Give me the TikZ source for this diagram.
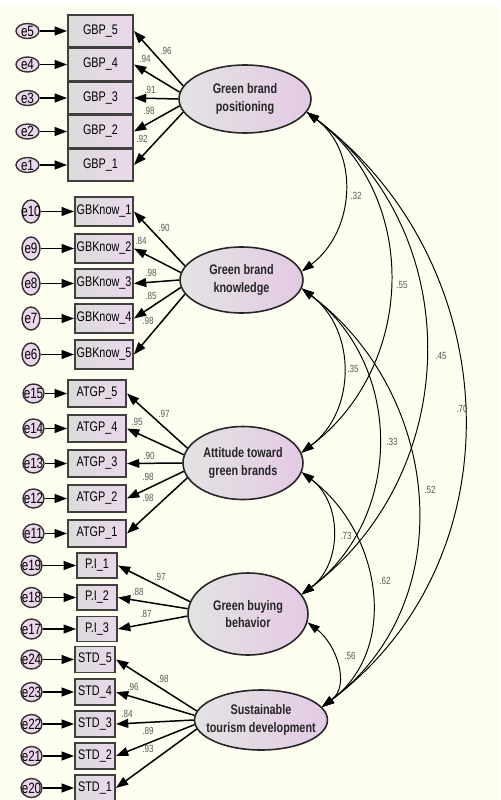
\documentclass[tikz,border=0pt]{standalone}
\usepackage{fontspec}
\setmainfont{Liberation Sans}
\newfontfamily\amosfont[FakeStretch=0.78]{Liberation Sans}
\newcommand\boxfont{\amosfont\fontsize{7.9pt}{9pt}\selectfont}
\newcommand\latfont{\amosfont\bfseries\fontsize{7.9pt}{9.9pt}\selectfont}
\newcommand\errfont{\amosfont\fontsize{8.5pt}{9pt}\selectfont}
\newcommand\coeffont{\amosfont\fontsize{5.9pt}{6pt}\selectfont}
\usetikzlibrary{shapes.geometric,arrows.meta}

\begin{document}
\begin{tikzpicture}[x=0.02cm,y=-0.02cm]
      \definecolor{paper}{HTML}{FDFDF0}
      \definecolor{boxpink}{HTML}{EBD8EB}
      \definecolor{latpink}{HTML}{E4CAE4}
      \definecolor{errpink}{HTML}{EBD6EB}
      \colorlet{boxgray}{gray!28}
      \colorlet{latgray}{gray!22}
      \colorlet{coefcolor}{black!65}
      \tikzset{
        obs/.style={draw=black!75,line width=1.1pt,left color=boxgray,
          right color=boxpink,inner sep=0pt,font=\boxfont},
        err/.style={ellipse,draw=black!80,line width=0.8pt,fill=errpink,
          inner sep=0pt,font=\errfont},
        latent/.style={ellipse,draw=black!85,line width=0.9pt,
          left color=latgray,right color=latpink,inner sep=0pt},
        lattext/.style={font=\latfont,align=center,text=black!85},
        coef/.style={font=\coeffont,text=coefcolor,inner sep=0pt},
        errarr/.style={line width=0.85pt,-{Triangle[length=7pt,width=5pt]}},
        load/.style={line width=0.85pt,-{Triangle[length=7pt,width=5pt]}},
        cov/.style={line width=0.55pt,
          {Triangle[length=7pt,width=4.6pt]}-{Triangle[length=7pt,width=4.6pt]},
          out=-37,in=37,looseness=1.07}
      }

      \useasboundingbox (0,0) rectangle (500,800);
      \fill[white] (0,0) rectangle (500,800);
      \fill[paper] (0,5) rectangle (500,800);

      % latent variables
      \node[latent,minimum width=2.64cm,minimum height=1.36cm,
        label={[lattext]center:Green brand\\positioning}] (GBP) at (245,99) {};
      \node[latent,minimum width=2.46cm,minimum height=1.32cm,
        label={[lattext]center:Green brand\\knowledge}] (GBK) at (241.5,280) {};
      \node[latent,minimum width=2.4cm,minimum height=1.46cm,
        label={[lattext]center:Attitude toward\\green brands}] (ATGP) at (243,463) {};
      \node[latent,minimum width=2.4cm,minimum height=1.64cm,
        label={[lattext]center:Green buying\\behavior}] (GBB) at (248,614) {};
      \node[latent,minimum width=2.66cm,minimum height=1.2cm,
        label={[lattext]center:Sustainable\\tourism development}] (STD) at (261,720) {};

      % Green brand positioning
      \foreach \n/\e/\y/\ang/\v/\lx/\ly in {5/5/31/168/.96/166/51,
          4/4/64.5/174/.94/145/59, 3/3/98/180/.91/150/90,
          2/2/131.5/186/.98/149/111, 1/1/165/192/.92/142/139}{
        \node[obs,minimum width=1.3cm,minimum height=0.64cm] (gbp\n)
          at (100.5,\y) {GBP\_\n};
        \node[err,minimum width=0.46cm,minimum height=0.3cm] (e\e)
          at (27.5,\y) {\makebox[0pt]{e\e}};
        \draw[errarr] (e\e) -- (gbp\n);
        \draw[load] (GBP.\ang) -- (gbp\n.east);
        \node[coef] (cgbp\n) at (\lx,\ly) {\v};
      }

      % Green brand knowledge
      \foreach \n/\e/\y/\ang/\v/\lx/\ly in {1/10/211.5/166/.90/164/228,
          2/9/248.5/173/.84/141/241, 3/8/283.5/180/.98/151/273,
          4/7/318.5/187/.85/151/296, 5/6/354.5/194/.98/148/321}{
        \node[obs,minimum width=1.16cm,minimum height=0.58cm] (gbk\n)
          at (104,\y) {GBKnow\_\n};
        \node[err,minimum width=0.36cm,minimum height=0.46cm] (e\e)
          at (31,\y) {\makebox[0pt]{e\e}};
        \draw[errarr] (e\e) -- (gbk\n);
        \draw[load] (GBK.\ang) -- (gbk\n.east);
        \node[coef] (cgbk\n) at (\lx,\ly) {\v};
      }

      % Attitude toward green brands
      \foreach \n/\e/\y/\ang/\v/\lx/\ly in {5/15/393.5/165/.97/164/414,
          4/14/428.5/172/.95/137/422, 3/13/463.5/180/.90/149/456,
          2/12/498.5/188/.98/148/477, 1/11/533.5/195/.98/148/498}{
        \node[obs,minimum width=1.16cm,minimum height=0.54cm] (atgp\n)
          at (97,\y) {ATGP\_\n};
        \node[err,minimum width=0.42cm,minimum height=0.38cm] (e\e)
          at (33.5,\y) {\makebox[0pt]{e\e}};
        \draw[errarr] (e\e) -- (atgp\n);
        \draw[load] (ATGP.\ang) -- (atgp\n.east);
        \node[coef] (catgp\n) at (\lx,\ly) {\v};
      }

      % Green buying behavior
      \foreach \n/\e/\y/\ang/\v/\lx/\ly in {1/19/565.5/168/.97/160/577,
          2/18/597.5/175/.88/138/592, 3/17/629/182/.87/146/614}{
        \node[obs,minimum width=0.8cm,minimum height=0.5cm] (pi\n)
          at (97,\y) {P.I\_\n};
        \node[err,minimum width=0.42cm,minimum height=0.4cm] (e\e)
          at (31.5,\y) {\makebox[0pt]{e\e}};
        \draw[errarr] (e\e) -- (pi\n);
        \draw[load] (GBB.\ang) -- (pi\n.east);
        \node[coef] (cpi\n) at (\lx,\ly) {\v};
      }

      % Sustainable tourism development
      \foreach \n/\e/\y/\ang/\v/\lx/\ly in {5/24/659.5/172/.98/163/679,
          4/23/692/176/.96/133/687, 3/22/724/180/.84/127/714,
          2/21/756/184/.89/148/731, 1/20/788/188/.93/148/749}{
        \node[obs,minimum width=0.8cm,minimum height=0.52cm] (std\n)
          at (95,\y) {STD\_\n};
        \node[err,minimum width=0.42cm,minimum height=0.38cm] (e\e)
          at (31.5,\y) {\makebox[0pt]{e\e}};
        \draw[errarr] (e\e) -- (std\n);
        \draw[load] (STD.\ang) -- (std\n.east);
        \node[coef] (cstd\n) at (\lx,\ly) {\v};
      }

      % covariances
      \draw[cov] (GBP.-12) to (GBK.8);
      \draw[cov] (GBP.-12) to (ATGP.10);
      \draw[cov] (GBP.-12) to (GBB.20);
      \draw[cov] (GBP.-12) to (STD.12);
      \draw[cov] (GBK.-8) to (ATGP.10);
      \draw[cov] (GBK.-8) to (GBB.20);
      \draw[cov] (GBK.-8) to (STD.12);
      \draw[cov] (ATGP.-9) to (GBB.20);
      \draw[cov] (ATGP.-9) to (STD.12);
      \draw[cov] (GBB.-8) to (STD.12);

      \node[coef] (r12) at (356,196) {.32};
      \node[coef] (r13) at (402,285) {.55};
      \node[coef] (r14) at (441,356) {.45};
      \node[coef] (r15) at (462,409) {.70};
      \node[coef] (r23) at (353,369) {.35};
      \node[coef] (r24) at (392,442) {.33};
      \node[coef] (r25) at (430,490) {.52};
      \node[coef] (r34) at (346,536) {.73};
      \node[coef] (r35) at (385,581) {.62};
      \node[coef] (r45) at (350,656) {.56};
\end{tikzpicture}
\end{document}
